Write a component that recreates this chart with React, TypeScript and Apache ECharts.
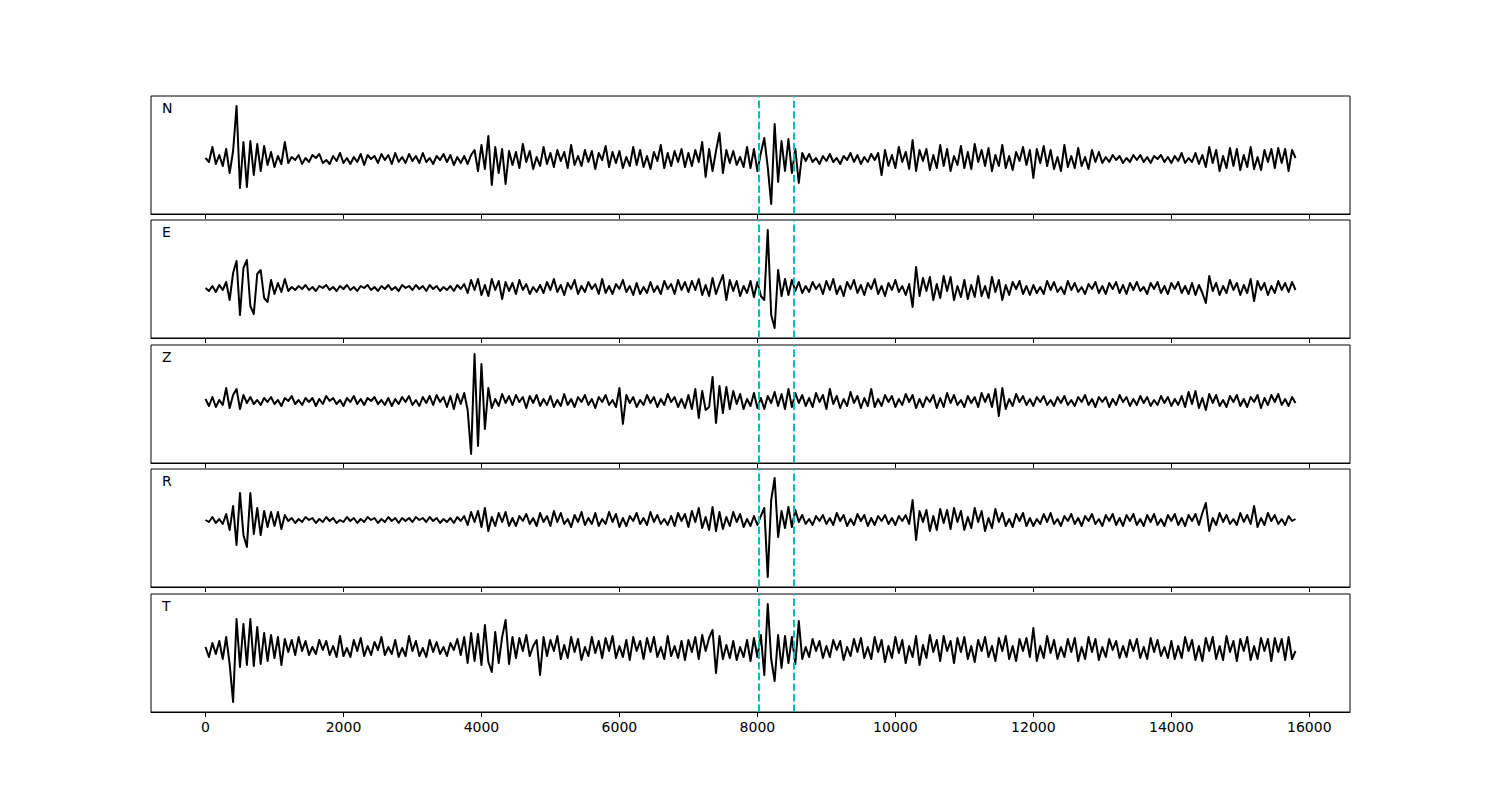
import React, { useEffect, useRef } from "react";
import * as echarts from "echarts";

// sample spacing of the traces (x units)
const STEP = 50;

// trace amplitudes, one value every STEP, starting at x = 0
const N_VALUES = [
  1, -3, 12, -5, 4, -7, 10, -14, 8, 53,
  -29, 17, -28, 18, -16, 15, -12, 13, -6, 7,
  -8, 3, -5, 17, -4, 2, -1, 4, -5, 1,
  -3, 4, 1, 5, -4, -1, -5, 3, -2, 6,
  -4, 1, -5, 2, -3, 5, -6, 4, 0, 3,
  -4, 5, -1, 4, -5, 6, -3, 2, -4, 5,
  -2, 3, -4, 6, -3, 1, -5, 3, -1, 5,
  -3, 4, -6, 2, -4, 3, -5, 4, 9, -12,
  14, -10, 23, -26, 12, -14, 10, -25, 8, -6,
  7, -9, 15, -3, 8, -10, 2, -7, 12, -5,
  6, -8, 9, -2, 7, -9, 14, -6, 3, -7,
  9, -3, 8, -10, 6, -1, 13, -8, 7, -4,
  8, -9, 2, -7, 12, -6, 9, -8, 3, -10,
  7, -2, 14, -9, 6, -7, 8, -3, 10, -8,
  6, -7, 9, -3, 17, -18, 10, -12, 8, 26,
  -14, 9, -4, 8, -6, 2, -8, 12, -9, 10,
  -12, 6, 21, -8, -45, 35, -23, 18, -12, 20,
  -14, 10, -24, 6, -2, 5, -3, 1, -5, 3,
  -2, 5, -3, 1, -5, 3, -1, 6, -3, 4,
  -5, 2, -3, 5, -1, 6, -16, 9, -7, 4,
  -9, 12, -3, 7, -10, 19, -12, 9, -2, 10,
  -11, 4, -9, 14, -7, 10, -12, 3, -6, 13,
  -9, 7, -10, 15, -3, 9, -7, 11, -12, 4,
  -7, 14, -9, 3, -11, 7, -2, 12, -6, 9,
  -19, 10, -4, 13, -7, 9, -10, 2, -12, 14,
  -8, 3, -9, 11, -7, 2, -10, 9, -3, 7,
  -4, 2, -3, 4, -1, 3, -4, 1, -3, 4,
  -1, 4, -3, 2, -4, 3, 0, 4, -3, 2,
  -4, 3, -2, 6, -4, 1, -3, 6, -5, 4,
  -8, 12, -4, 9, -12, 3, -9, 11, -7, 10,
  -11, 4, -8, 12, -10, 2, -11, 9, -3, 10,
  -9, 11, -4, 10, -12, 9, 1,
];

const E_VALUES = [
  0, -3, 2, -4, 3, -2, 6, -12, 15, 27,
  -27, 20, 28, -18, -26, 14, 18, -10, -14, 8,
  -6, 5, -4, 9, -3, 1, -2, 2, -1, 3,
  -2, 1, -3, 2, 0, 3, -2, 1, -3, 2,
  -1, 3, -2, 1, -3, 2, 0, 3, -2, 1,
  -3, 2, -1, 3, -2, 1, -3, 3, 0, 2,
  -2, 3, -1, 2, -3, 3, -1, 2, -3, 1,
  -2, 2, -3, 3, -1, 4, -5, 8, -2, 9,
  -7, 3, -8, 9, -2, 7, -11, 6, -3, 5,
  -6, 8, -2, 4, -6, 1, -4, 3, -5, 6,
  -2, 9, -4, 3, -7, 5, -1, 8, -6, 2,
  -4, 6, -1, 4, -6, 9, -5, 2, -6, 4,
  -1, 8, -4, 2, -7, 5, -6, 1, -5, 6,
  -4, 2, -6, 7, -1, 4, -6, 8, -2, 6,
  -4, 7, -2, 9, -7, 3, -8, 10, -6, 4,
  13, -12, 8, -3, 7, -8, 2, -5, 7, -9,
  6, -8, -12, 58, -27, -40, 18, -8, 9, -7,
  8, -3, 6, -5, 2, -4, 6, -1, 4, -6,
  7, -2, 9, -6, 2, -8, 6, -1, 8, -5,
  3, -7, 5, -1, 9, -6, 2, -8, 5, -2,
  8, -4, 2, -7, 4, -19, 21, -8, 10, -3,
  11, -12, 4, -10, 12, -3, 11, -12, 2, -9,
  8, -11, 3, -9, 12, -8, 2, -10, 11, -4,
  8, -12, 3, -7, 6, -1, 7, -6, 2, -7,
  3, -5, 1, -6, 7, -2, 6, -4, 1, -6,
  7, -2, 5, -4, 1, -6, 4, -1, 6, -5,
  2, -6, 5, -1, 6, -5, 3, -6, 5, -2,
  6, -3, 1, -6, 5, -1, 6, -5, 2, -6,
  5, -1, 6, -5, 2, -6, 5, -7, 3, -5,
  -15, 12, -3, 5, -7, 2, -5, 8, -2, 5,
  -7, 3, -5, 9, -13, 7, -2, 5, -7, 2,
  -5, 7, -2, 5, -4, 6, -2,
];

const Z_VALUES = [
  2, -5, 4, -6, 1, -4, 13, -7, 6, 12,
  -8, 6, -2, 4, -3, 1, -4, 3, -1, 4,
  -3, 1, -5, 3, 0, 5, -3, 1, -4, 3,
  -1, 3, -5, 2, -3, 5, 0, 3, -3, 1,
  -5, 3, -1, 5, -3, 2, -4, 3, 0, 4,
  -3, 1, -4, 3, -5, 2, -3, 4, -1, 5,
  -4, 1, -5, 4, -2, 5, -4, 6, -1, 4,
  -6, 5, -8, 7, -3, 8, -9, -53, 47, -45,
  37, -28, 13, -7, 2, -5, 7, -2, 5, -4,
  6, -1, 4, -7, 5, -2, 6, -5, 2, -4,
  5, -6, 1, -5, 7, -4, 2, -6, 4, -1,
  6, -4, 2, -7, 4, -1, 6, -4, 1, -6,
  13, -23, 6, -2, 4, -6, 1, -4, 6, -2,
  4, -6, 2, -4, 7, -1, 4, -6, 2, -7,
  6, -8, 12, -17, 10, -9, -6, 24, -22, 15,
  -12, 14, -8, 10, -3, 7, -8, 2, -5, 8,
  -7, 3, -8, 5, -2, 9, -5, 7, -8, 12,
  -6, 8, -2, 6, -5, 3, -6, 8, -1, 6,
  -8, 12, -3, 5, -7, 2, -5, 9, -2, 5,
  -7, 3, -5, 12, -6, 2, -5, 6, -1, 5,
  -6, 2, -4, 7, -1, 6, -7, 2, -6, 4,
  -1, 6, -7, 3, -6, 8, -2, 6, -4, 1,
  -6, 5, -2, 4, -6, 8, -1, 7, -6, 12,
  -15, 13, -8, 2, -5, 7, -1, 5, -4, 2,
  -5, 4, -1, 5, -4, 1, -5, 4, -2, 5,
  -4, 1, -5, 4, -1, 6, -4, 2, -6, 4,
  -1, 4, -6, 2, -4, 6, -1, 4, -5, 2,
  -4, 5, -2, 4, -5, 1, -4, 5, -2, 4,
  -5, 2, -4, 5, -6, 9, -3, 10, -7, 3,
  -9, 7, -2, 6, -5, 1, -6, 5, -1, 6,
  -5, 2, -6, 4, -1, 6, -7, 3, -4, 6,
  -1, 7, -4, 2, -5, 4, -2,
];

const R_VALUES = [
  0, -2, 3, -3, 1, -4, 6, -10, 14, -25,
  27, -15, -27, 27, -14, 12, -15, 9, -7, 8,
  -6, 8, -9, 5, -1, 2, -3, 1, -2, 3,
  0, 2, -3, 1, -2, 3, -1, 2, -3, 0,
  -2, 3, -1, 2, -3, 1, -2, 3, 0, 2,
  -3, 1, -2, 3, -1, 2, -3, 2, -1, 2,
  -2, 3, 0, 2, -2, 3, -1, 2, -3, 1,
  -2, 2, -3, 3, -1, 4, -5, 8, -2, 9,
  -7, 12, -11, 3, -6, 7, -2, 8, -6, 2,
  -6, 4, -1, 6, -4, 2, -6, 7, -2, 4,
  -6, 9, -2, 7, -4, 1, -7, 5, -2, 8,
  -5, 2, -4, 7, -6, 1, -4, 8, -2, 6,
  -7, 2, -6, 4, -1, 7, -4, 2, -5, 8,
  -2, 5, -4, 1, -5, 4, -6, 7, -1, 6,
  -7, 9, -2, 12, -8, 3, -10, 13, -11, 8,
  -9, 3, -6, 8, -2, 6, -7, 1, -6, 4,
  -5, 4, 12, -57, 20, 42, -17, 9, -8, 13,
  -7, 10, -2, 5, -4, 1, -5, 4, -1, 5,
  -4, 2, -5, 7, -1, 5, -6, 1, -5, 6,
  -1, 5, -6, 2, -5, 4, -1, 5, -4, 2,
  -5, 4, -1, 5, -4, 20, -20, 9, -2, 10,
  -11, 4, -10, 11, -3, 10, -9, 12, -2, 9,
  -10, 3, -8, 12, -2, 9, -11, 2, -8, 11,
  -2, 7, -6, 1, -7, 6, -1, 7, -6, 2,
  -6, 1, -4, 6, -2, 7, -4, 1, -6, 4,
  -1, 6, -4, 2, -6, 4, -1, 6, -4, 1,
  -6, 5, -1, 6, -5, 2, -6, 5, -1, 6,
  -5, 1, -6, 5, -2, 6, -5, 1, -6, 5,
  -1, 6, -5, 2, -6, 5, -1, 6, -5, 7,
  17, -11, 2, -5, 7, -2, 5, -4, 1, -5,
  7, -2, 5, -4, 14, -7, 2, -5, 7, -1,
  5, -4, 1, -5, 4, -1, 1,
];

const T_VALUES = [
  2, -8, 6, -5, 8, -10, 12, -15, -53, 30,
  -18, 25, -16, 30, -17, 22, -15, 16, -12, 14,
  -9, 12, -16, 10, -3, 9, -6, 12, -2, 8,
  -6, 2, -5, 9, -1, 8, -6, 3, -8, 13,
  -7, 1, -8, 9, -2, 11, -7, 3, -6, 7,
  -1, 12, -6, 2, -5, 9, -8, 1, -7, 13,
  -2, 8, -7, 1, -8, 9, -3, 7, -5, 2,
  -7, 6, -1, 10, -6, 12, -14, 16, -12, 15,
  -16, 24, -13, -23, 17, -14, 12, 29, -15, 12,
  -9, 11, -2, 14, -7, 3, 9, -26, 12, -7,
  9, -2, 13, -10, 4, -9, 12, -3, 10, -11,
  2, -7, 12, -4, 8, -9, 11, -2, 13, -9,
  3, -8, 9, -11, 12, -2, 8, -10, 11, -3,
  12, -8, 2, -10, 13, -7, 3, -9, 8, -11,
  9, -3, 12, -10, 14, -2, 11, 19, -24, 13,
  -10, 4, -9, 8, -11, 2, -8, 9, -12, 11,
  -8, 14, -26, 45, -10, -32, 14, -19, 13, -14,
  12, -15, 28, -10, 2, -8, 10, -2, 8, -9,
  3, -8, 9, -1, 8, -11, 2, -7, 10, -3,
  11, -9, 2, -10, 12, -3, 9, -13, 3, -9,
  12, -4, 9, -14, 3, -8, 13, -16, 4, -9,
  14, -3, 9, -12, 13, -2, 8, -14, 11, -3,
  12, -10, 3, -13, 9, -2, 12, -8, 3, -12,
  11, -2, 13, -10, 3, -12, 10, -2, 11, -8,
  21, -12, 3, -9, 13, -4, 9, -10, 2, -8,
  10, -3, 11, -12, 2, -10, 12, -3, 10, -11,
  2, -8, 10, -1, 8, -9, 3, -8, 9, -2,
  10, -9, 2, -10, 11, -3, 9, -7, 2, -9,
  8, -10, 3, -9, 12, -2, 9, -11, 3, -12,
  11, -2, 12, -10, 3, -11, 13, -3, 8, -12,
  10, -2, 12, -11, 3, -10, 11, -2, 10, -12,
  11, -3, 10, -11, 12, -10, -2,
];

const CHANNELS = ["N", "E", "Z", "R", "T"];
const TRACES = [N_VALUES, E_VALUES, Z_VALUES, R_VALUES, T_VALUES];
// picked window (vertical dashed markers)
const PICKS = [8020, 8520];
const X_TICKS = [0, 2000, 4000, 6000, 8000, 10000, 12000, 14000, 16000];
const X_MIN = -790;
const X_MAX = 16590;

// layout (pixels)
const LEFT = 151;
const RIGHT = 150;
const PANEL_TOPS = [96, 220, 345, 469, 594];
const PANEL_H = 118;
const Y_LIMITS = [
  [-55, 63],
  [-50, 68],
  [-62, 56],
  [-67, 51],
  [-63, 55],
];

export default function App() {
  const ref = useRef<HTMLDivElement>(null);

  useEffect(() => {
    if (!ref.current) return;
    const chart = echarts.init(ref.current, null, { renderer: "svg" });
    const font = "DejaVu Sans";

    const grids = PANEL_TOPS.map((top) => ({
      left: LEFT,
      right: RIGHT,
      top,
      height: PANEL_H,
      show: true,
      borderColor: "#000",
      borderWidth: 1,
      backgroundColor: "transparent",
      containLabel: false,
    }));

    const xAxes = PANEL_TOPS.map((_, i) => ({
      type: "value",
      gridIndex: i,
      min: X_MIN,
      max: X_MAX,
      splitLine: { show: false },
      axisLine: { show: true, onZero: false, lineStyle: { color: "#000", width: 1 } },
      axisTick: {
        show: true,
        inside: false,
        length: 5,
        lineStyle: { color: "#000", width: 1 },
        customValues: X_TICKS,
      },
      axisLabel: {
        show: i === PANEL_TOPS.length - 1,
        customValues: X_TICKS,
        formatter: (v: number) => String(v),
        color: "#000",
        fontSize: 14,
        fontFamily: font,
        margin: 8,
      },
    }));

    const yAxes = PANEL_TOPS.map((_, i) => ({
      type: "value",
      gridIndex: i,
      min: Y_LIMITS[i][0],
      max: Y_LIMITS[i][1],
      axisLine: { show: false },
      axisTick: { show: false },
      axisLabel: { show: false },
      splitLine: { show: false },
    }));

    const series = TRACES.map((vals, i) => ({
      type: "line",
      name: CHANNELS[i],
      xAxisIndex: i,
      yAxisIndex: i,
      data: vals.map((v, k) => [k * STEP, v]),
      showSymbol: false,
      symbol: "none",
      lineStyle: { color: "#000", width: 2, join: "round" },
      silent: true,
      markLine: {
        silent: true,
        symbol: "none",
        label: { show: false },
        lineStyle: { color: "#00BFBF", width: 2, type: [7.4, 3.2], opacity: 1 },
        data: PICKS.map((p) => ({ xAxis: p })),
      },
    }));

    const graphic = CHANNELS.map((c, i) => ({
      type: "text",
      left: 162,
      top: PANEL_TOPS[i] + 5,
      style: { text: c, fontSize: 14, fontFamily: font, fill: "#000" },
    }));

    chart.setOption({
      animation: false,
      backgroundColor: "#fff",
      grid: grids,
      xAxis: xAxes,
      yAxis: yAxes,
      series,
      graphic,
    });

    return () => chart.dispose();
  }, []);

  return (
    <div
      ref={ref}
      style={{ position: "absolute", left: 0, top: 0, width: 1500, height: 800 }}
    />
  );
}
